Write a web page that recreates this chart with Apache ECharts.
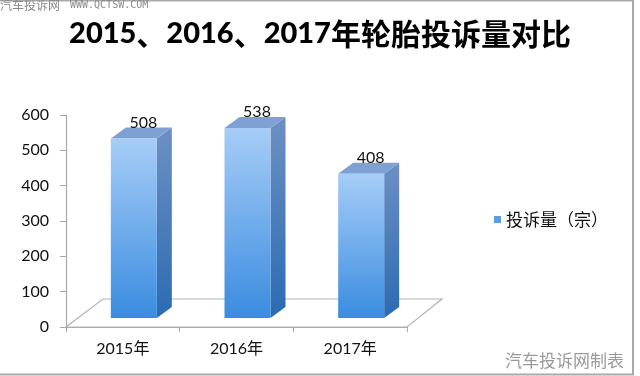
<!DOCTYPE html>
<html>
<head>
<meta charset="utf-8">
<script src="https://cdn.jsdelivr.net/npm/echarts@6/dist/echarts.min.js"></script>
<style>
html,body{margin:0;padding:0;background:#fff;}
#chart{width:640px;height:376px;}
</style>
</head>
<body>
<div id="chart"></div>
<script>
const categories = ['2015年', '2016年', '2017年'];
const complaints = [508, 538, 408];
const seriesName = '投诉量（宗）';
const yMin = 0, yMax = 600, yStep = 100;
const titleYears = ['2015', '2016', '2017'];
const titleTail = '年轮胎投诉量对比';

const chart = echarts.init(document.getElementById('chart'), null, {renderer: 'canvas'});

const grad = (a, b) => new echarts.graphic.LinearGradient(0, 0, 0, 1, [{offset: 0, color: a}, {offset: 1, color: b}]);

function renderItem(params, api) {
  const i = api.value(0), v = api.value(1);
  const top = api.coord([i, v]);
  const base = api.coord([i, 0]);
  const cx = top[0];
  const fw = 46;
  const fx0 = cx - 12, fx1 = fx0 + fw;
  const lift = 9;
  const yb = base[1] - lift, yt = top[1] - lift;
  const dx = 15, dy = -11;
  const children = [];
  if (params.dataIndex === 0) {
    const cs = params.coordSys;
    const x0 = cs.x, x1 = cs.x + cs.width, y0 = cs.y + cs.height;
    children.push({
      type: 'polygon',
      shape: {points: [[x0, y0], [x0 + 37, y0 - 28], [x1 + 35, y0 - 28], [x1, y0]]},
      style: {fill: '#ffffff', stroke: '#b4b4b4', lineWidth: 1.2},
      z2: 0
    });
  }
  children.push({
    type: 'polygon',
    shape: {points: [[fx1, yt], [fx1 + dx, yt + dy], [fx1 + dx, yb + dy], [fx1, yb]]},
    style: {fill: grad('#6d90c4', '#2b6bb1')},
    z2: 5
  });
  children.push({
    type: 'polygon',
    shape: {points: [[fx0, yt], [fx1, yt], [fx1 + dx, yt + dy], [fx0 + dx, yt + dy]]},
    style: {fill: '#7fa0d2'},
    z2: 5
  });
  children.push({
    type: 'rect',
    shape: {x: fx0, y: yt, width: fw, height: yb - yt},
    style: {fill: grad('#a6cdf7', '#3a8ce0')},
    z2: 6
  });
  children.push({
    type: 'text',
    style: {
      x: (fx0 + fx1) / 2 + dx / 2 + 2, y: yt + dy + 3,
      text: String(v), align: 'center', verticalAlign: 'bottom',
      fill: '#111', font: '16px Lato, "Noto Sans CJK SC", sans-serif'
    },
    z2: 8
  });
  return {type: 'group', children};
}

const titleText = '{d|' + titleYears[0] + '}{c|、}{d|' + titleYears[1] + '}{c|、}{d|' + titleYears[2] + '}{c|' + titleTail + '}';

chart.setOption({
  animation: false,
  backgroundColor: '#ffffff',
  title: {
    text: titleText,
    left: 'center',
    top: 14,
    textStyle: {
      rich: {
        d: {fontFamily: 'Lato', fontWeight: 900, fontSize: 29, color: '#000'},
        c: {fontFamily: '"Noto Sans CJK SC"', fontWeight: 'bold', fontSize: 30, color: '#000'}
      }
    }
  },
  legend: {
    data: [{name: seriesName, icon: 'rect'}],
    left: 489, top: 206,
    itemWidth: 7, itemHeight: 7,
    textStyle: {fontFamily: '"Noto Sans CJK SC"', fontSize: 17, color: '#111'}
  },
  grid: {left: 66, right: 233, top: 115, bottom: 49},
  xAxis: {
    type: 'category',
    data: categories,
    axisLine: {lineStyle: {color: '#a8a8a8', width: 1.2}},
    axisTick: {show: true, length: 5, lineStyle: {color: '#a8a8a8'}},
    axisLabel: {margin: 14, color: '#111', fontSize: 16, fontFamily: 'Lato, "Noto Sans CJK SC"'},
    splitLine: {show: false}
  },
  yAxis: {
    type: 'value',
    min: yMin, max: yMax, interval: yStep,
    axisLine: {show: true, lineStyle: {color: '#a8a8a8', width: 1.2}},
    axisTick: {show: true, length: 6, lineStyle: {color: '#a8a8a8'}},
    axisLabel: {margin: 17, color: '#111', fontSize: 16, fontFamily: 'Lato'},
    splitLine: {show: false}
  },
  series: [{
    name: seriesName,
    type: 'custom',
    renderItem: renderItem,
    itemStyle: {color: '#5d9de3'},
    encode: {x: 0, y: 1},
    data: complaints.map((v, i) => [i, v])
  }],
  graphic: [
    {type: 'rect', shape: {x: -3, y: 0.5, width: 636, height: 374}, style: {fill: 'none', stroke: '#a9a9a9', lineWidth: 2}, silent: true},
    {type: 'text', left: 0, top: -1, style: {text: '汽车投诉网', fill: '#8a8a8a', font: '12px "Noto Sans CJK SC"'}},
    {type: 'text', left: 70, top: 0, style: {text: 'WWW.QCTSW.COM', fill: '#8a8a8a', font: '10px "DejaVu Sans Mono"'}},
    {type: 'text', left: 505, top: 352, style: {text: '汽车投诉网制表', fill: '#9a9a9a', font: '17px "Noto Sans CJK SC"'}}
  ]
});
</script>
</body>
</html>
